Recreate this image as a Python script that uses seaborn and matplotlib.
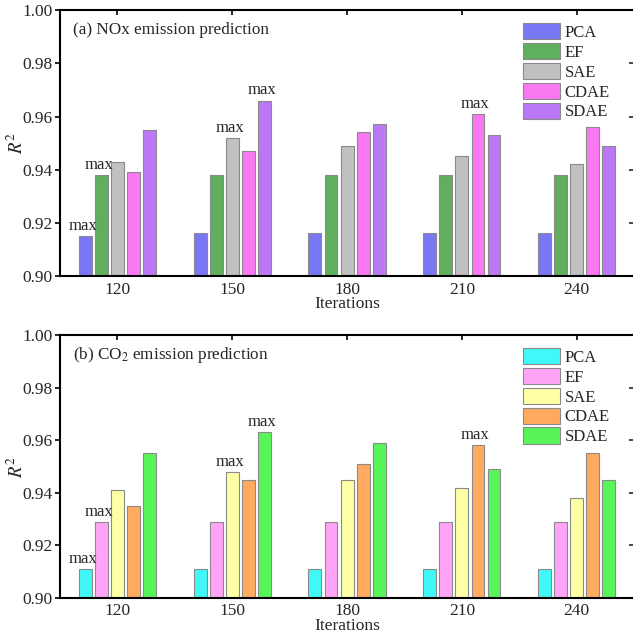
import matplotlib
matplotlib.use("Agg")
import matplotlib.pyplot as plt
import seaborn as sns
import pandas as pd

iterations = ["120", "150", "180", "210", "240"]
methods = ["PCA", "EF", "SAE", "CDAE", "SDAE"]

nox_pca = [0.915, 0.916, 0.916, 0.916, 0.916]
nox_ef = [0.938, 0.938, 0.938, 0.938, 0.938]
nox_sae = [0.943, 0.952, 0.949, 0.945, 0.942]
nox_cdae = [0.939, 0.947, 0.954, 0.961, 0.956]
nox_sdae = [0.955, 0.966, 0.957, 0.953, 0.949]

co2_pca = [0.911, 0.911, 0.911, 0.911, 0.911]
co2_ef = [0.929, 0.929, 0.929, 0.929, 0.929]
co2_sae = [0.941, 0.948, 0.945, 0.942, 0.938]
co2_cdae = [0.935, 0.945, 0.951, 0.958, 0.955]
co2_sdae = [0.955, 0.963, 0.959, 0.949, 0.945]

max_marks = [("120", "PCA"), ("120", "EF"), ("150", "SAE"), ("150", "SDAE"), ("210", "CDAE")]

nox_colors = ["#7878f6", "#5faf5f", "#c0c0c0", "#fb78f3", "#bb78f6"]
co2_colors = ["#40f8f8", "#ffa4f6", "#ffffa6", "#ffaa5e", "#58f558"]

yticks = [0.90, 0.92, 0.94, 0.96, 0.98, 1.00]


def make_df(series):
    rows = []
    for m, vals in zip(methods, series):
        for it, v in zip(iterations, vals):
            rows.append({"Iterations": it, "Method": m, "R2": v})
    return pd.DataFrame(rows)


sns.set_theme(style="ticks")
plt.rcParams["font.family"] = ["Liberation Serif", "DejaVu Serif"]
plt.rcParams["mathtext.fontset"] = "stix"

fig = plt.figure(figsize=(6.33, 6.36), dpi=100)
ax1 = fig.add_axes([0.0948, 0.566, 0.907, 0.418])
ax2 = fig.add_axes([0.0948, 0.060, 0.907, 0.413])

panels = [
    (ax1, [nox_pca, nox_ef, nox_sae, nox_cdae, nox_sdae], nox_colors, "(a) NOx emission prediction"),
    (ax2, [co2_pca, co2_ef, co2_sae, co2_cdae, co2_sdae], co2_colors, "(b) CO$_2$ emission prediction"),
]

for ax, series, colors, title in panels:
    df = make_df(series)
    sns.barplot(data=df, x="Iterations", y="R2", hue="Method", order=iterations,
                hue_order=methods, palette=colors, width=0.7, gap=0.2,
                edgecolor="#8a8a8a", linewidth=0.8, saturation=1, ax=ax)
    ax.set_ylim(0.90, 1.00)
    ax.set_xlim(-0.5, 4.5)
    ax.set_yticks(yticks)
    ax.set_yticklabels([f"{v:.2f}" for v in yticks])
    ax.tick_params(axis="both", labelsize=12.5, width=1.2, length=3.5, color="black")
    ax.tick_params(axis="x", direction="in", top=True, pad=4)
    ax.tick_params(axis="y", direction="out", right=False, pad=2)
    ax.set_xlabel("Iterations", fontsize=12.5, labelpad=-1)
    ax.set_ylabel("$R^2$", fontsize=13.5)
    ax.yaxis.set_label_coords(-0.058, 0.5)
    for s in ax.spines.values():
        s.set_linewidth(1.5)
        s.set_color("black")
    ax.text(0.023, 0.925, title, transform=ax.transAxes, fontsize=12.3, va="center", ha="left")

    for it, m in max_marks:
        hi = methods.index(m)
        ci = iterations.index(it)
        bar = ax.containers[hi][ci]
        xc = bar.get_x() + bar.get_width() / 2
        ax.annotate("max", (xc, bar.get_height()), xytext=(-2, 1.5), textcoords="offset points",
                    ha="center", va="bottom", fontsize=12)

    handles, labels = ax.get_legend_handles_labels()
    ax.legend(handles, labels, loc="upper right", bbox_to_anchor=(0.975, 0.99), frameon=False,
              fontsize=12, handlelength=2.2, handleheight=1.15, labelspacing=0.12,
              handletextpad=0.3, borderaxespad=0.2)
    sec = ax.secondary_yaxis("right")
    sec.set_yticks(yticks)
    sec.tick_params(direction="in", length=3.5, width=1.2, labelright=False)

fig.savefig("out.png", dpi=100)
